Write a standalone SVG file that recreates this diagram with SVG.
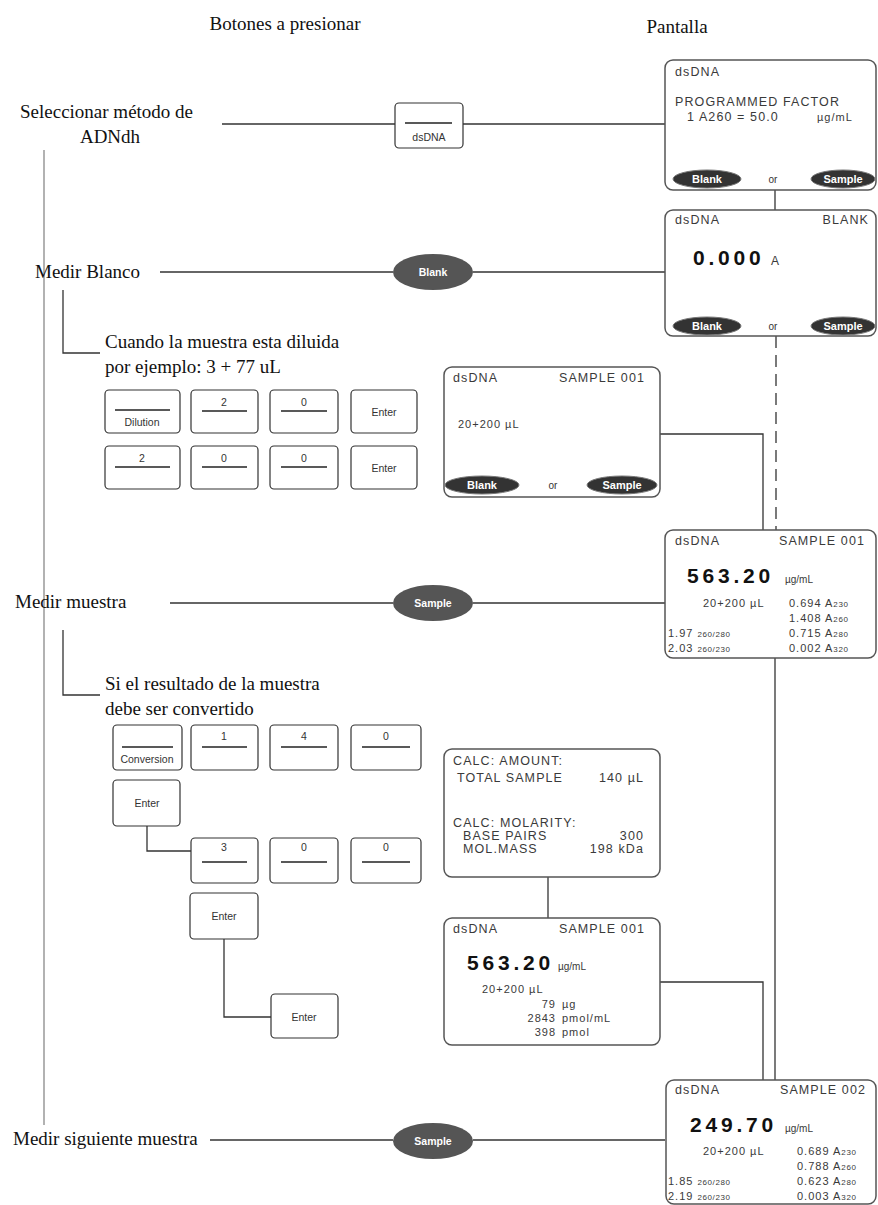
<svg xmlns="http://www.w3.org/2000/svg" width="878" height="1205" viewBox="0 0 878 1205">
<style>
.lbl{font-family:"Liberation Serif","Times New Roman",serif;font-size:19px;fill:#111}
.ttl{font-family:"Liberation Serif","Times New Roman",serif;font-size:19px;fill:#111}
.scr{fill:#fff;stroke:#555;stroke-width:1.5}
.st{font-family:"Liberation Sans",Arial,sans-serif;font-size:12.5px;fill:#3a3a3a;letter-spacing:1.1px}
.sd{font-family:"Liberation Sans",Arial,sans-serif;font-size:11px;fill:#3a3a3a;letter-spacing:1px}
.ss{font-family:"Liberation Sans",Arial,sans-serif;font-size:8px;fill:#3a3a3a;letter-spacing:0.6px}
.big{font-family:"Liberation Sans",Arial,sans-serif;font-size:21px;font-weight:bold;fill:#111;letter-spacing:3.8px}
.unit{font-family:"Liberation Sans",Arial,sans-serif;font-size:10px;fill:#3a3a3a}
.ua{font-family:"Liberation Sans",Arial,sans-serif;font-size:12px;fill:#3a3a3a}
.pill{fill:#333;stroke:#777;stroke-width:1}
.pt{font-family:"Liberation Sans",Arial,sans-serif;font-size:11px;font-weight:bold;fill:#fff;text-anchor:middle}
.or{font-family:"Liberation Sans",Arial,sans-serif;font-size:10px;fill:#333;text-anchor:middle}
.btn{fill:#fff;stroke:#333;stroke-width:1.2}
.bt{font-family:"Liberation Sans",Arial,sans-serif;font-size:10.5px;fill:#333;text-anchor:middle}
.bl{stroke:#222;stroke-width:1.5}
.ell{fill:#555}
.et{font-family:"Liberation Sans",Arial,sans-serif;font-size:10.5px;font-weight:bold;fill:#fff;text-anchor:middle}
.c{stroke:#333;stroke-width:1.3;fill:none}
.cg{stroke:#999;stroke-width:1.5;fill:none}
</style>

<g id="titles">
<text class="ttl" x="285" y="30" text-anchor="middle">Botones a presionar</text>
<text class="ttl" x="677" y="33" text-anchor="middle">Pantalla</text>
</g>

<g id="connectors">
<line class="cg" x1="44" y1="150" x2="44" y2="1125"/>
<polyline class="c" points="63,290 63,353 100,353"/>
<polyline class="c" points="63,630 63,695 100,695"/>
<line class="c" x1="222" y1="124" x2="395" y2="124"/>
<line class="c" x1="463" y1="124" x2="665" y2="124"/>
<line class="c" x1="160" y1="272" x2="393" y2="272"/>
<line class="c" x1="473" y1="272" x2="665" y2="272"/>
<line class="c" x1="170" y1="603" x2="393" y2="603"/>
<line class="c" x1="473" y1="603" x2="665" y2="603"/>
<line class="c" x1="210" y1="1140" x2="393" y2="1140"/>
<line class="c" x1="473" y1="1140" x2="665" y2="1140"/>
<line class="c" x1="775" y1="190" x2="775" y2="210"/>
<line class="c" x1="776" y1="336" x2="776" y2="530" stroke-dasharray="12,7"/>
<polyline class="c" points="660,434 763,434 763,530"/>
<line class="c" x1="775" y1="658" x2="775" y2="1080"/>
<polyline class="c" points="660,982 763,982 763,1080"/>
<line class="c" x1="548" y1="877" x2="548" y2="918"/>
<polyline class="c" points="147,826 147,851 191,851"/>
<polyline class="c" points="224,939 224,1017 271,1017"/>
</g>

<g id="labels">
<text class="lbl" x="20" y="118">Seleccionar método de</text>
<text class="lbl" x="110" y="143" text-anchor="middle">ADNdh</text>
<text class="lbl" x="35" y="278">Medir Blanco</text>
<text class="lbl" x="105" y="348">Cuando la muestra esta diluida</text>
<text class="lbl" x="105" y="373">por ejemplo: 3 + 77 uL</text>
<text class="lbl" x="15" y="608">Medir muestra</text>
<text class="lbl" x="105" y="690">Si el resultado de la muestra</text>
<text class="lbl" x="105" y="715">debe ser convertido</text>
<text class="lbl" x="13" y="1145">Medir siguiente muestra</text>
</g>

<g id="btn-dsdna">
<rect class="btn" x="395" y="103" width="68" height="45" rx="4"/>
<line class="bl" x1="405" y1="123" x2="452" y2="123"/>
<text class="bt" x="429" y="141">dsDNA</text>
</g>
<g id="btn-blank"><ellipse class="ell" cx="433" cy="272" rx="40" ry="18"/><text class="et" x="433" y="276">Blank</text></g>
<g id="btn-sample1"><ellipse class="ell" cx="433" cy="603" rx="40" ry="18"/><text class="et" x="433" y="607">Sample</text></g>
<g id="btn-sample2"><ellipse class="ell" cx="433" cy="1141" rx="40" ry="18"/><text class="et" x="433" y="1145">Sample</text></g>

<g id="dilution-row1">
<rect class="btn" x="105" y="390" width="75" height="43" rx="4"/><line class="bl" x1="115" y1="410" x2="170" y2="410"/><text class="bt" x="142" y="426">Dilution</text>
<rect class="btn" x="191" y="390" width="67" height="43" rx="4"/><text class="bt" x="224" y="406">2</text><line class="bl" x1="202" y1="411" x2="247" y2="411"/>
<rect class="btn" x="270" y="390" width="68" height="43" rx="4"/><text class="bt" x="304" y="406">0</text><line class="bl" x1="281" y1="411" x2="327" y2="411"/>
<rect class="btn" x="351" y="390" width="66" height="43" rx="4"/><text class="bt" x="384" y="416">Enter</text>
</g>
<g id="dilution-row2">
<rect class="btn" x="105" y="446" width="75" height="43" rx="4"/><text class="bt" x="142" y="462">2</text><line class="bl" x1="115" y1="467" x2="170" y2="467"/>
<rect class="btn" x="191" y="446" width="67" height="43" rx="4"/><text class="bt" x="224" y="462">0</text><line class="bl" x1="202" y1="467" x2="247" y2="467"/>
<rect class="btn" x="270" y="446" width="68" height="43" rx="4"/><text class="bt" x="304" y="462">0</text><line class="bl" x1="281" y1="467" x2="327" y2="467"/>
<rect class="btn" x="351" y="446" width="66" height="43" rx="4"/><text class="bt" x="384" y="472">Enter</text>
</g>

<g id="conversion-row1">
<rect class="btn" x="113" y="725" width="69" height="45" rx="4"/><line class="bl" x1="122" y1="747" x2="173" y2="747"/><text class="bt" x="147" y="763">Conversion</text>
<rect class="btn" x="191" y="725" width="67" height="45" rx="4"/><text class="bt" x="224" y="740">1</text><line class="bl" x1="202" y1="747" x2="247" y2="747"/>
<rect class="btn" x="270" y="725" width="68" height="45" rx="4"/><text class="bt" x="304" y="740">4</text><line class="bl" x1="281" y1="747" x2="327" y2="747"/>
<rect class="btn" x="351" y="725" width="70" height="45" rx="4"/><text class="bt" x="386" y="740">0</text><line class="bl" x1="362" y1="747" x2="410" y2="747"/>
</g>
<g id="conversion-enter1"><rect class="btn" x="113" y="780" width="67" height="46" rx="4"/><text class="bt" x="147" y="807">Enter</text></g>
<g id="conversion-row2">
<rect class="btn" x="191" y="838" width="67" height="45" rx="4"/><text class="bt" x="224" y="851">3</text><line class="bl" x1="202" y1="862" x2="247" y2="862"/>
<rect class="btn" x="270" y="838" width="68" height="45" rx="4"/><text class="bt" x="304" y="851">0</text><line class="bl" x1="281" y1="862" x2="327" y2="862"/>
<rect class="btn" x="351" y="838" width="70" height="45" rx="4"/><text class="bt" x="386" y="851">0</text><line class="bl" x1="362" y1="862" x2="410" y2="862"/>
</g>
<g id="conversion-enter2"><rect class="btn" x="190" y="893" width="68" height="46" rx="4"/><text class="bt" x="224" y="920">Enter</text></g>
<g id="conversion-enter3"><rect class="btn" x="271" y="994" width="67" height="44" rx="4"/><text class="bt" x="304" y="1021">Enter</text></g>

<g id="screen-factor">
<rect class="scr" x="665" y="60" width="211" height="130" rx="8"/>
<text class="st" x="675" y="76">dsDNA</text>
<text class="st" x="675" y="106">PROGRAMMED FACTOR</text>
<text class="st" x="687" y="121">1  A260 = 50.0</text>
<text class="sd" x="817" y="121">µg/mL</text>
<ellipse class="pill" cx="707" cy="179" rx="34" ry="9"/><text class="pt" x="707" y="183">Blank</text>
<text class="or" x="773" y="183">or</text>
<ellipse class="pill" cx="843" cy="179" rx="32" ry="9"/><text class="pt" x="843" y="183">Sample</text>
</g>

<g id="screen-blank">
<rect class="scr" x="665" y="210" width="211" height="126" rx="8"/>
<text class="st" x="675" y="224">dsDNA</text>
<text class="st" x="869" y="224" text-anchor="end">BLANK</text>
<text class="big" x="693" y="265">0.000</text>
<text class="ua" x="771" y="265">A</text>
<ellipse class="pill" cx="707" cy="326" rx="34" ry="9"/><text class="pt" x="707" y="330">Blank</text>
<text class="or" x="773" y="330">or</text>
<ellipse class="pill" cx="843" cy="326" rx="32" ry="9"/><text class="pt" x="843" y="330">Sample</text>
</g>

<g id="screen-dilution">
<rect class="scr" x="444" y="367" width="216" height="130" rx="8"/>
<text class="st" x="453" y="382">dsDNA</text>
<text class="st" x="645" y="382" text-anchor="end">SAMPLE 001</text>
<text class="sd" x="458" y="428">20+200 µL</text>
<ellipse class="pill" cx="482" cy="485" rx="37" ry="9"/><text class="pt" x="482" y="489">Blank</text>
<text class="or" x="553" y="489">or</text>
<ellipse class="pill" cx="622" cy="485" rx="35" ry="9"/><text class="pt" x="622" y="489">Sample</text>
</g>

<g id="screen-sample001">
<rect class="scr" x="665" y="530" width="211" height="128" rx="8"/>
<text class="st" x="675" y="545">dsDNA</text>
<text class="st" x="865" y="545" text-anchor="end">SAMPLE 001</text>
<text class="big" x="687" y="583">563.20</text>
<text class="unit" x="785" y="583">µg/mL</text>
<text class="sd" x="703" y="607">20+200 µL</text>
<text class="sd" x="789" y="607">0.694 A<tspan class="ss">230</tspan></text>
<text class="sd" x="789" y="622">1.408 A<tspan class="ss">260</tspan></text>
<text class="sd" x="668" y="637">1.97 <tspan class="ss">260/280</tspan></text>
<text class="sd" x="789" y="637">0.715 A<tspan class="ss">280</tspan></text>
<text class="sd" x="668" y="652">2.03 <tspan class="ss">260/230</tspan></text>
<text class="sd" x="789" y="652">0.002 A<tspan class="ss">320</tspan></text>
</g>

<g id="screen-calc">
<rect class="scr" x="444" y="749" width="216" height="128" rx="8"/>
<text class="st" x="453" y="765">CALC: AMOUNT:</text>
<text class="st" x="457" y="782">TOTAL SAMPLE</text>
<text class="st" x="644" y="782" text-anchor="end">140 µL</text>
<text class="st" x="453" y="827">CALC: MOLARITY:</text>
<text class="st" x="463" y="840">BASE PAIRS</text>
<text class="st" x="644" y="840" text-anchor="end">300</text>
<text class="st" x="463" y="853">MOL.MASS</text>
<text class="st" x="644" y="853" text-anchor="end">198 kDa</text>
</g>

<g id="screen-converted">
<rect class="scr" x="444" y="918" width="216" height="127" rx="8"/>
<text class="st" x="453" y="933">dsDNA</text>
<text class="st" x="645" y="933" text-anchor="end">SAMPLE 001</text>
<text class="big" x="467" y="970">563.20</text>
<text class="unit" x="558" y="970">µg/mL</text>
<text class="sd" x="482" y="993">20+200 µL</text>
<text class="sd" x="556" y="1008" text-anchor="end">79</text><text class="sd" x="562" y="1008">µg</text>
<text class="sd" x="556" y="1022" text-anchor="end">2843</text><text class="sd" x="562" y="1022">pmol/mL</text>
<text class="sd" x="556" y="1036" text-anchor="end">398</text><text class="sd" x="562" y="1036">pmol</text>
</g>

<g id="screen-sample002">
<rect class="scr" x="666" y="1080" width="210" height="124" rx="8"/>
<text class="st" x="675" y="1094">dsDNA</text>
<text class="st" x="866" y="1094" text-anchor="end">SAMPLE 002</text>
<text class="big" x="690" y="1132">249.70</text>
<text class="unit" x="785" y="1132">µg/mL</text>
<text class="sd" x="703" y="1155">20+200 µL</text>
<text class="sd" x="797" y="1155">0.689 A<tspan class="ss">230</tspan></text>
<text class="sd" x="797" y="1170">0.788 A<tspan class="ss">260</tspan></text>
<text class="sd" x="668" y="1185">1.85 <tspan class="ss">260/280</tspan></text>
<text class="sd" x="797" y="1185">0.623 A<tspan class="ss">280</tspan></text>
<text class="sd" x="668" y="1200">2.19 <tspan class="ss">260/230</tspan></text>
<text class="sd" x="797" y="1200">0.003 A<tspan class="ss">320</tspan></text>
</g>
</svg>
